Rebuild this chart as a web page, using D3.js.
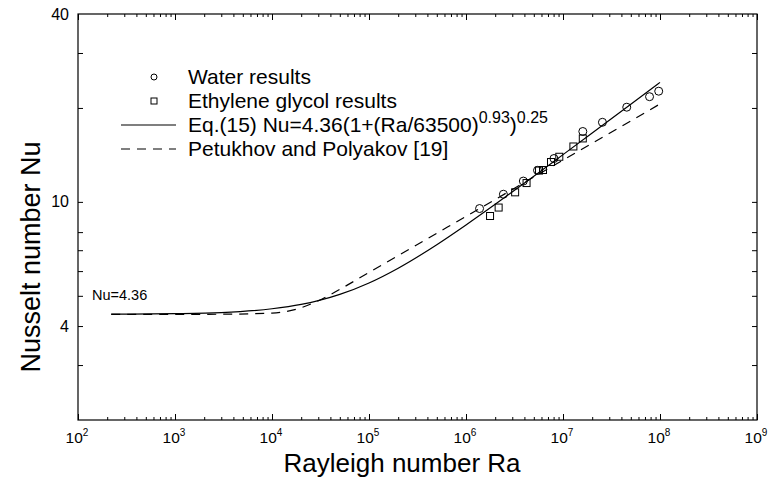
<!DOCTYPE html>
<html><head><meta charset="utf-8">
<script src="https://cdn.jsdelivr.net/npm/d3@7"></script>
<style>
html,body{margin:0;padding:0;background:#fff;}
svg{display:block;font-family:"Liberation Sans",Arial,Helvetica,sans-serif;}
</style></head>
<body>
<svg id="chart" width="768" height="479"></svg>
<script>
// ---- data ----
const waterRa = [1.38e6, 2.43e6, 3.90e6, 5.46e6, 8.07e6, 1.60e7, 2.55e7, 4.54e7, 7.80e7, 9.70e7];
const waterNu = [9.52, 10.58, 11.66, 12.62, 13.77, 16.81, 17.99, 20.11, 21.73, 22.63];
const glycolRa = [1.77e6, 2.17e6, 3.21e6, 4.21e6, 5.66e6, 6.22e6, 7.52e6, 9.16e6, 1.28e7, 1.60e7];
const glycolNu = [9.01, 9.59, 10.73, 11.49, 12.60, 12.65, 13.42, 13.95, 15.05, 15.97];
const curveRa   = [220, 1e3, 3e3, 1e4, 2e4, 3e4, 5e4, 1e5, 2e5, 5e5, 1e6, 2e6, 5e6, 1e7, 2e7, 5e7, 1e8];
const eq15Nu    = [4.366, 4.383, 4.42, 4.544, 4.692, 4.823, 5.051, 5.496, 6.130, 7.290, 8.432, 9.820, 12.08, 14.17, 16.63, 20.56, 24.15];
const petukhovNu= [4.36, 4.36, 4.365, 4.40, 4.58, 4.82, 5.244, 5.94, 6.725, 7.933, 8.99, 10.18, 12.01, 13.60, 15.41, 18.17, 20.6];
const xMajor = [2, 3, 4, 5, 6, 7, 8, 9];           // decade exponents labelled
const yTicks = [3, 4, 5, 6, 7, 8, 10, 20, 30];
const yLabels = [4, 10, 40];
const legendLabels = ["Water results", "Ethylene glycol results", "Eq.(15) Nu=4.36(1+(Ra/63500)", "Petukhov and Polyakov [19]"];

// ---- layout ----
const svg = d3.select("#chart");
const L = 78, R = 757, T = 14, B = 420;
const x = d3.scaleLog().domain([1e2, 1e9]).range([L, R]);
const y = d3.scaleLog().domain([2, 40]).range([B, T]);

const xTickVals = [];
for (let e = 2; e < 9; e++) for (let m = 1; m <= 9; m++) xTickVals.push(m * Math.pow(10, e));
xTickVals.push(1e9);
const isDecade = v => Math.abs(Math.log10(v) - Math.round(Math.log10(v))) < 1e-9;

function styleAxis(g) {
  g.select(".domain").remove();
  g.selectAll("text").remove();
  g.selectAll("line").attr("stroke", "#000").attr("stroke-width", 1);
}

const gB = svg.append("g").attr("transform", `translate(0,${B})`)
  .call(d3.axisBottom(x).tickValues(xTickVals).tickSize(-3).tickFormat(""));
styleAxis(gB);
gB.selectAll(".tick line").attr("y2", d => isDecade(d) ? -6 : -3);
const gT = svg.append("g").attr("transform", `translate(0,${T})`)
  .call(d3.axisTop(x).tickValues(xTickVals).tickSize(-3).tickFormat(""));
styleAxis(gT);
gT.selectAll(".tick line").attr("y2", d => isDecade(d) ? 6 : 3);
const gL = svg.append("g").attr("transform", `translate(${L},0)`)
  .call(d3.axisLeft(y).tickValues(yTicks).tickSize(-5).tickFormat(""));
styleAxis(gL);
const gR = svg.append("g").attr("transform", `translate(${R},0)`)
  .call(d3.axisRight(y).tickValues(yTicks).tickSize(-5).tickFormat(""));
styleAxis(gR);

svg.append("rect").attr("x", L).attr("y", T).attr("width", R - L).attr("height", B - T)
  .attr("fill", "none").attr("stroke", "#000").attr("stroke-width", 1.2);

// x tick labels 10^n
xMajor.forEach(e => {
  const t = svg.append("text").attr("x", x(Math.pow(10, e)) - 1).attr("y", B + 23)
    .attr("text-anchor", "middle").attr("font-size", 15.5).attr("fill", "#000");
  t.append("tspan").text("10");
  t.append("tspan").attr("dy", -7).attr("font-size", 10).text(e);
});
yLabels.forEach(v => {
  svg.append("text").attr("x", L - 9).attr("y", y(v) + 5.5).attr("text-anchor", "end")
    .attr("font-size", 16).attr("fill", "#000").text(v);
});

// axis titles
svg.append("text").attr("x", 402).attr("y", 472).attr("text-anchor", "middle")
  .attr("font-size", 26).attr("fill", "#000").text("Rayleigh number Ra");
svg.append("text").attr("transform", "translate(40,257) rotate(-90)").attr("text-anchor", "middle")
  .attr("font-size", 27).attr("fill", "#000").text("Nusselt number Nu");

// curves
const line = d3.line().x(d => x(d[0])).y(d => y(d[1])).curve(d3.curveMonotoneX);
svg.append("defs").append("clipPath").attr("id", "clip")
  .append("rect").attr("x", L).attr("y", T).attr("width", R - L).attr("height", B - T);
const plot = svg.append("g").attr("clip-path", "url(#clip)");
plot.append("path").datum(curveRa.map((r, i) => [r, eq15Nu[i]]))
  .attr("d", line).attr("fill", "none").attr("stroke", "#000").attr("stroke-width", 1.2);
plot.append("path").datum(curveRa.map((r, i) => [r, petukhovNu[i]]))
  .attr("d", line).attr("fill", "none").attr("stroke", "#000").attr("stroke-width", 1.2)
  .attr("stroke-dasharray", "9,7");

plot.selectAll("circle.w").data(waterRa.map((r, i) => [r, waterNu[i]])).enter()
  .append("circle").attr("class", "w").attr("cx", d => x(d[0])).attr("cy", d => y(d[1]))
  .attr("r", 4).attr("fill", "none").attr("stroke", "#000").attr("stroke-width", 1);
plot.selectAll("rect.g").data(glycolRa.map((r, i) => [r, glycolNu[i]])).enter()
  .append("rect").attr("class", "g").attr("x", d => x(d[0]) - 3.5).attr("y", d => y(d[1]) - 3.5)
  .attr("width", 7).attr("height", 7).attr("fill", "none").attr("stroke", "#000").attr("stroke-width", 1);

svg.append("text").attr("x", 92).attr("y", 300).attr("font-size", 14.5).attr("fill", "#000").text("Nu=4.36");

// legend
const lx = 188, ly = [77, 101, 125, 149];
svg.append("circle").attr("cx", 154).attr("cy", ly[0]).attr("r", 3).attr("fill", "none").attr("stroke", "#000");
svg.append("rect").attr("x", 151).attr("y", ly[1] - 3).attr("width", 6).attr("height", 6)
  .attr("fill", "none").attr("stroke", "#000");
svg.append("line").attr("x1", 121).attr("x2", 176).attr("y1", ly[2]).attr("y2", ly[2])
  .attr("stroke", "#000").attr("stroke-width", 1.2);
svg.append("line").attr("x1", 121).attr("x2", 176).attr("y1", ly[3]).attr("y2", ly[3])
  .attr("stroke", "#000").attr("stroke-width", 1.2).attr("stroke-dasharray", "9,7");
legendLabels.forEach((s, i) => {
  const t = svg.append("text").attr("x", lx).attr("y", ly[i] + 7).attr("font-size", 21).attr("fill", "#000");
  t.append("tspan").text(s);
  if (i === 2) {
    t.append("tspan").attr("dy", -9).attr("font-size", 16).text("0.93");
    t.append("tspan").attr("dy", 9).text(")");
    t.append("tspan").attr("dy", -9).attr("font-size", 16).text("0.25");
  }
});
</script>
</body></html>
